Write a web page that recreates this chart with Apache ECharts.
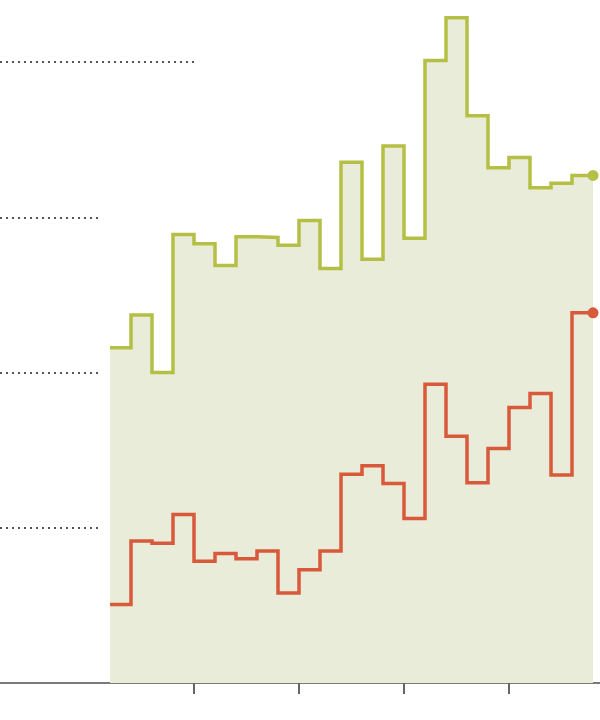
<!DOCTYPE html>
<html>
<head>
<meta charset="utf-8">
<script src="https://cdn.jsdelivr.net/npm/echarts@6/dist/echarts.min.js"></script>
<style>html,body{margin:0;padding:0;background:#fff;}#c{width:600px;height:720px;}</style>
</head>
<body>
<div id="c"></div>
<script>
// Segment start years (each value holds from its year to the next)
var years = [1996,1997,1998,1999,2000,2001,2002,2003,2004,2005,2006,2007,2008,2009,2010,2011,2012,2013,2014,2015,2016,2017,2018];
var endYear = 2019;
var greenValues = [21.6,23.7,20.0,28.9,28.3,26.9,28.75,28.7,28.2,29.8,26.7,33.55,27.3,34.6,28.65,40.1,42.85,36.55,33.2,33.85,31.9,32.2,32.7];
var redValues = [5.05,9.15,9.0,10.85,7.85,8.35,8.0,8.5,5.8,7.3,8.5,13.45,14.0,12.85,10.6,19.25,15.9,12.9,15.1,17.75,18.65,13.4,23.85];
var tickYears = [2000,2005,2010,2015];
var gridValues = [10,20,30,40];

var GREEN = '#b5bf45', FILL = '#e9ecd8', RED = '#d9593b';

function stepData(vals){
  var d = years.map(function(y,i){ return [y, vals[i]]; });
  d.push([endYear, vals[vals.length-1]]);
  return d;
}

var xMin = 1996 - 110/21;
var xMax = 1996 + 490/21;
var shortEnd = 1996 - 12/21;

var gridLines = gridValues.map(function(v){
  return [{coord:[xMin, v]}, {coord:[v === 40 ? 2000 : shortEnd, v]}];
});

var chart = echarts.init(document.getElementById('c'), null, {renderer:'canvas'});
chart.setOption({
  animation:false,
  grid:{left:0,right:0,top:0,bottom:37,containLabel:false},
  xAxis:{
    type:'value', min:xMin, max:xMax,
    axisLine:{show:true,lineStyle:{color:'#7a7a7a',width:2}},
    axisTick:{show:true,customValues:tickYears,length:11,lineStyle:{color:'#666',width:2}},
    axisLabel:{show:false},
    splitLine:{show:false}
  },
  yAxis:{
    type:'value', min:0, max:44,
    axisLine:{show:false}, axisTick:{show:false}, axisLabel:{show:false}, splitLine:{show:false}
  },
  series:[
    {
      type:'line', step:'end', data:stepData(greenValues), symbol:'none',
      lineStyle:{color:GREEN,width:3.5,join:'miter'}, areaStyle:{color:FILL,opacity:1},
      markLine:{silent:true,symbol:['none','none'],label:{show:false},
        lineStyle:{color:'#555',width:2,type:[2,4]}, data:gridLines}
    },
    {
      type:'line', step:'end', data:stepData(redValues), symbol:'none',
      lineStyle:{color:RED,width:3.5,join:'miter'}
    },
    {
      type:'scatter', symbolSize:11, z:5,
      data:[{value:[endYear, greenValues[greenValues.length-1]], itemStyle:{color:GREEN,opacity:1}},
            {value:[endYear, redValues[redValues.length-1]], itemStyle:{color:RED,opacity:1}}]
    }
  ]
});
</script>
</body>
</html>
